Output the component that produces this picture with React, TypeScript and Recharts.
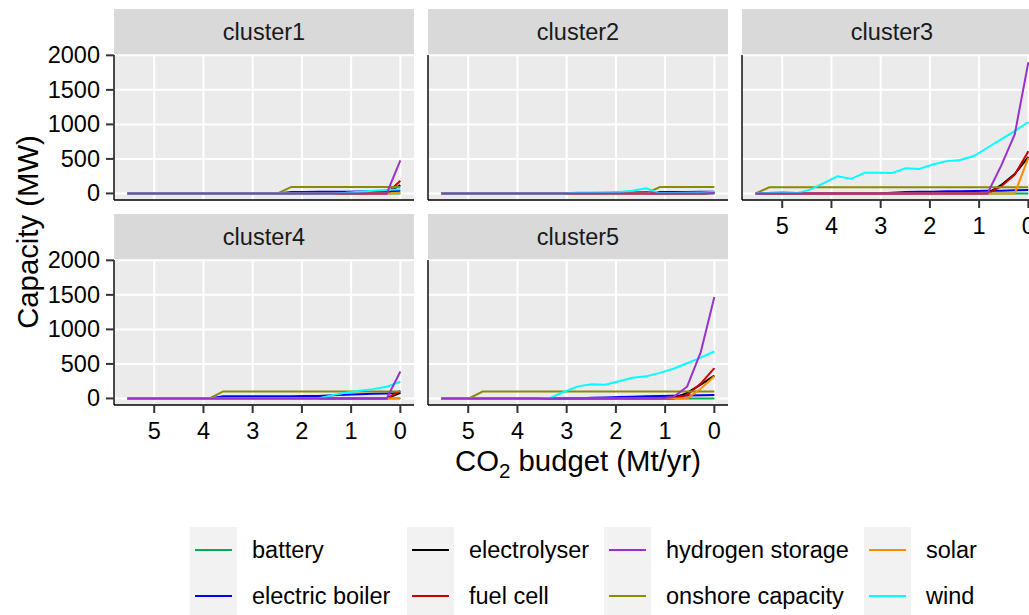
import React from "react";
import { LineChart, Line, XAxis, YAxis, CartesianGrid } from "recharts";

const FONT = '"Liberation Sans", Arial, Helvetica, sans-serif';

// CO2 budget (Mt/yr) at each scenario step
const budget = [5.54, 5.263, 4.986, 4.709, 4.432, 4.155, 3.878, 3.601, 3.324, 3.047, 2.77, 2.493, 2.216, 1.939, 1.662, 1.385, 1.108, 0.831, 0.554, 0.277, 0];

const techNames = ["battery", "electric boiler", "electrolyser", "fuel cell", "hydrogen storage", "onshore capacity", "solar", "wind"];
const techColors = ["#00B050", "#0000FF", "#000000", "#CD0000", "#9932CC", "#8B8B00", "#FF8C00", "#00FFFF"];
// hydrogen storage is painted last so it sits on top of the flat zero lines
const drawOrder = [0, 1, 2, 3, 5, 6, 7, 4];

const clusterNames = ["cluster1", "cluster2", "cluster3", "cluster4", "cluster5"];

const xTicks = [0, 1, 2, 3, 4, 5];
const yTicks = [0, 500, 1000, 1500, 2000];

// capacity in MW, one row per technology (same order as techNames)
const cluster1 = [
  [0, 0, 0, 0, 0, 0, 0, 0, 0, 0, 0, 0, 0, 0, 0, 0, 0, 0, 0, 0, 0],
  [0, 0, 0, 0, 0, 0, 0, 0, 0, 0, 0, 0, 22, 22, 24, 25, 26, 28, 30, 32, 40],
  [0, 0, 0, 0, 0, 0, 0, 0, 0, 0, 0, 0, 0, 0, 0, 0, 0, 0, 0, 0, 120],
  [0, 0, 0, 0, 0, 0, 0, 0, 0, 0, 0, 0, 0, 0, 0, 0, 0, 0, 0, 0, 185],
  [0, 0, 0, 0, 0, 0, 0, 0, 0, 0, 0, 0, 0, 0, 0, 0, 0, 0, 0, 0, 480],
  [0, 0, 0, 0, 0, 0, 0, 0, 0, 0, 0, 0, 95, 95, 95, 95, 95, 95, 95, 95, 95],
  [0, 0, 0, 0, 0, 0, 0, 0, 0, 0, 0, 0, 0, 0, 0, 0, 0, 0, 0, 0, 5],
  [0, 0, 0, 0, 0, 0, 0, 0, 0, 0, 0, 0, 0, 0, 0, 0, 10, 25, 40, 50, 60],
];

const cluster2 = [
  [0, 0, 0, 0, 0, 0, 0, 0, 0, 0, 0, 0, 0, 0, 0, 0, 0, 0, 0, 0, 0],
  [0, 0, 0, 0, 0, 0, 0, 0, 0, 0, 0, 0, 8, 12, 15, 18, 20, 22, 22, 24, 25],
  [0, 0, 0, 0, 0, 0, 0, 0, 0, 0, 0, 0, 0, 0, 0, 0, 0, 0, 0, 0, 10],
  [0, 0, 0, 0, 0, 0, 0, 0, 0, 0, 0, 0, 0, 0, 0, 0, 0, 0, 0, 0, 5],
  [0, 0, 0, 0, 0, 0, 0, 0, 0, 0, 0, 0, 0, 0, 0, 0, 0, 0, 0, 0, 5],
  [0, 0, 0, 0, 0, 0, 0, 0, 0, 0, 0, 0, 0, 0, 0, 0, 92, 92, 92, 92, 92],
  [0, 0, 0, 0, 0, 0, 0, 0, 0, 0, 0, 0, 0, 0, 0, 0, 0, 0, 0, 0, 10],
  [0, 0, 0, 0, 0, 0, 0, 0, 0, 0, 12, 15, 18, 20, 40, 75, 5, 8, 10, 15, 20],
];

const cluster3 = [
  [0, 0, 0, 0, 0, 0, 0, 0, 0, 0, 0, 0, 0, 0, 0, 0, 0, 0, 0, 0, 0],
  [0, 0, 0, 0, 0, 0, 0, 0, 0, 0, 10, 20, 25, 25, 30, 30, 35, 38, 40, 45, 50],
  [0, 0, 0, 0, 0, 0, 0, 0, 0, 0, 0, 0, 0, 0, 0, 0, 0, 0, 120, 280, 530],
  [0, 0, 0, 0, 0, 0, 0, 0, 0, 0, 0, 0, 0, 0, 0, 0, 0, 0, 100, 272, 611],
  [0, 0, 0, 0, 0, 0, 0, 0, 0, 0, 0, 0, 0, 0, 0, 0, 0, 0, 400, 855, 1900],
  [0, 90, 90, 90, 90, 90, 90, 90, 90, 90, 90, 90, 90, 90, 90, 90, 90, 90, 90, 90, 90],
  [0, 0, 0, 0, 0, 0, 0, 0, 0, 0, 0, 0, 0, 0, 0, 0, 0, 0, 0, 0, 515],
  [0, 10, 25, 5, 55, 150, 248, 212, 300, 300, 295, 365, 355, 420, 468, 485, 542, 662, 782, 902, 1035],
];

const cluster4 = [
  [0, 0, 0, 0, 0, 0, 0, 0, 0, 0, 0, 0, 0, 0, 0, 0, 0, 0, 0, 0, 0],
  [0, 0, 0, 0, 0, 0, 0, 30, 30, 30, 30, 32, 32, 34, 36, 45, 55, 62, 68, 72, 78],
  [0, 0, 0, 0, 0, 0, 0, 0, 0, 0, 0, 0, 0, 0, 0, 0, 0, 0, 0, 0, 80],
  [0, 0, 0, 0, 0, 0, 0, 0, 0, 0, 0, 0, 0, 0, 0, 0, 0, 0, 0, 0, 110],
  [0, 0, 0, 0, 0, 0, 0, 0, 0, 0, 0, 0, 0, 0, 0, 0, 0, 0, 0, 0, 390],
  [0, 0, 0, 0, 0, 0, 0, 102, 102, 102, 102, 102, 102, 102, 102, 102, 102, 102, 102, 102, 102],
  [0, 0, 0, 0, 0, 0, 0, 0, 0, 0, 0, 0, 0, 0, 0, 0, 0, 0, 0, 0, 5],
  [0, 0, 0, 0, 0, 0, 0, 0, 0, 0, 0, 0, 0, 0, 0, 48, 82, 111, 135, 169, 242],
];

const cluster5 = [
  [0, 0, 0, 0, 0, 0, 0, 0, 0, 0, 0, 0, 0, 0, 0, 0, 0, 0, 0, 0, 0],
  [0, 0, 0, 0, 0, 0, 0, 0, 0, 0, 0, 10, 15, 20, 25, 30, 35, 38, 42, 46, 50],
  [0, 0, 0, 0, 0, 0, 0, 0, 0, 0, 0, 0, 0, 0, 0, 0, 0, 0, 80, 200, 330],
  [0, 0, 0, 0, 0, 0, 0, 0, 0, 0, 0, 0, 0, 0, 0, 0, 0, 0, 50, 215, 440],
  [0, 0, 0, 0, 0, 0, 0, 0, 0, 0, 0, 0, 0, 0, 0, 0, 0, 20, 170, 670, 1470],
  [0, 0, 0, 100, 100, 100, 100, 100, 100, 100, 100, 100, 100, 100, 100, 100, 100, 100, 100, 100, 100],
  [0, 0, 0, 0, 0, 0, 0, 0, 0, 0, 0, 0, 0, 0, 0, 0, 0, 0, 0, 140, 320],
  [0, 0, 0, 0, 0, 0, 0, 0, 10, 97, 175, 204, 197, 250, 300, 320, 370, 430, 510, 590, 680],
];

const clusters = [cluster1, cluster2, cluster3, cluster4, cluster5];

// facet grid geometry
const PLOT_W = 300;
const PLOT_H = 145;
const STRIP_H = 46;
const AXIS_W = 100;
const AXIS_H = 40;
const PAD = 15; // room so edge tick labels are not clipped by the svg
const colLeft = [114, 428, 742];
const rowTop = [9, 214];

const TICK_FS = 23.5;
const TITLE_FS = 29.3;

const XTick = (props: any) => (
  <text x={props.x} y={props.y + 18} textAnchor="middle" dominantBaseline="central"
    fontSize={TICK_FS} fontFamily={FONT} fill="#000">{props.payload.value}</text>
);

const YTick = (props: any) => (
  <text x={props.x} y={props.y} textAnchor="end" dominantBaseline="central"
    fontSize={TICK_FS} fontFamily={FONT} fill="#000">{props.payload.value}</text>
);

// inner facets keep their breaks (the grid needs them) but draw no label
const NoTick = () => <g />;

function Panel({ index }: { index: number }) {
  const values = clusters[index];
  const col = index < 3 ? index : index - 3;
  const row = index < 3 ? 0 : 1;
  const showY = col === 0;
  const showX = row === 1 || index === 2;
  const rows = budget.map((b, i) => {
    const r: Record<string, number> = { budget: b };
    techNames.forEach((t, k) => (r[t] = values[k][i]));
    return r;
  });
  const axisLine = { stroke: "#000", strokeWidth: 1.4 };
  const tickLine = { stroke: "#333", strokeWidth: 2 };
  return (
    <div style={{ position: "absolute", left: colLeft[col] - AXIS_W, top: rowTop[row] }}>
      <div style={{
        position: "absolute", left: AXIS_W, top: 0, width: PLOT_W, height: STRIP_H,
        background: "#D9D9D9", color: "#1A1A1A", fontSize: TICK_FS, fontFamily: FONT,
        display: "flex", alignItems: "center", justifyContent: "center",
      }}>{clusterNames[index]}</div>
      <div style={{ position: "absolute", left: 0, top: STRIP_H - PAD }}>
        <LineChart width={AXIS_W + PLOT_W + PAD} height={PAD + PLOT_H + AXIS_H} data={rows}
          margin={{ top: PAD, right: PAD, bottom: 0, left: 0 }}>
          <CartesianGrid fill="#EBEBEB" stroke="#FFFFFF" strokeWidth={2} syncWithTicks />
          <XAxis dataKey="budget" type="number" domain={[-0.277, 5.817]} reversed allowDataOverflow
            ticks={xTicks} interval={0} height={AXIS_H} axisLine={axisLine}
            tickLine={showX ? tickLine : false} tickSize={8} tickMargin={0}
            tick={showX ? XTick : NoTick} />
          <YAxis type="number" domain={[-95, 2005]} allowDataOverflow ticks={yTicks} interval={0}
            width={AXIS_W} axisLine={axisLine}
            tickLine={showY ? tickLine : false} tickSize={8} tickMargin={6}
            tick={showY ? YTick : NoTick} />
          {drawOrder.map((k) => (
            <Line key={techNames[k]} dataKey={techNames[k]} stroke={techColors[k]} strokeWidth={2}
              dot={false} isAnimationActive={false} />
          ))}
        </LineChart>
      </div>
    </div>
  );
}

const legendCols = [190, 407, 604, 864];

function Legend() {
  return (
    <>
      {legendCols.map((left, c) => (
        <div key={c} style={{ position: "absolute", left, top: 527, width: 47, height: 92, background: "#F2F2F2" }} />
      ))}
      {techNames.map((t, k) => {
        const c = Math.floor(k / 2);
        const r = k % 2;
        const cy = 550 + r * 46;
        return (
          <React.Fragment key={t}>
            <div style={{ position: "absolute", left: legendCols[c] + 5, top: cy - 1, width: 37, height: 2, background: techColors[k] }} />
            <div style={{
              position: "absolute", left: legendCols[c] + 62, top: cy - 15, height: 30, lineHeight: "30px",
              fontSize: TICK_FS, fontFamily: FONT, color: "#000", whiteSpace: "nowrap",
            }}>{t}</div>
          </React.Fragment>
        );
      })}
    </>
  );
}

export default function App() {
  return (
    <div style={{ position: "absolute", left: 0, top: 0, width: 1029, height: 615, overflow: "hidden", background: "#fff" }}>
      {clusterNames.map((_, i) => <Panel key={i} index={i} />)}
      <div style={{
        position: "absolute", left: 28, top: 232, transform: "translate(-50%, -50%) rotate(-90deg)",
        fontSize: TITLE_FS, fontFamily: FONT, color: "#000", whiteSpace: "nowrap",
      }}>Capacity (MW)</div>
      <div style={{
        position: "absolute", left: 578, top: 461, transform: "translate(-50%, -50%)",
        fontSize: TITLE_FS, fontFamily: FONT, color: "#000", whiteSpace: "nowrap",
      }}>CO<span style={{ fontSize: "0.7em", position: "relative", top: "0.35em" }}>2</span> budget (Mt/yr)</div>
      <Legend />
    </div>
  );
}
